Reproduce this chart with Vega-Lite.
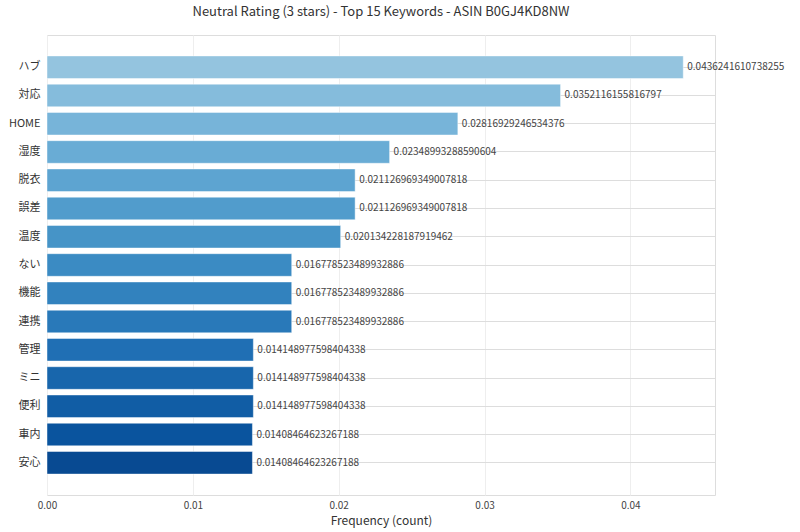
{
  "$schema": "https://vega.github.io/schema/vega-lite/v6.json",
  "autosize": {"type": "none"},
  "padding": {"left": 47, "top": 35, "right": 85, "bottom": 37},
  "width": 668,
  "height": 460,
  "background": "white",
  "title": {
    "text": "Neutral Rating (3 stars) - Top 15 Keywords - ASIN B0GJ4KD8NW",
    "anchor": "middle",
    "fontSize": 13,
    "fontWeight": "normal",
    "color": "#333333",
    "offset": 16
  },
  "config": {
    "font": "Noto Sans CJK JP",
    "view": {"stroke": "#dddddd", "strokeWidth": 1}
  },
  "data": {
    "values": [
      {"keyword": "ハブ", "value": 0.0436241610738255},
      {"keyword": "対応", "value": 0.0352116155816797},
      {"keyword": "HOME", "value": 0.02816929246534376},
      {"keyword": "湿度", "value": 0.02348993288590604},
      {"keyword": "脱衣", "value": 0.021126969349007818},
      {"keyword": "誤差", "value": 0.021126969349007818},
      {"keyword": "温度", "value": 0.020134228187919462},
      {"keyword": "ない", "value": 0.016778523489932886},
      {"keyword": "機能", "value": 0.016778523489932886},
      {"keyword": "連携", "value": 0.016778523489932886},
      {"keyword": "管理", "value": 0.014148977598404338},
      {"keyword": "ミニ", "value": 0.014148977598404338},
      {"keyword": "便利", "value": 0.014148977598404338},
      {"keyword": "車内", "value": 0.01408464623267188},
      {"keyword": "安心", "value": 0.01408464623267188}
    ]
  },
  "encoding": {
    "y": {
      "field": "keyword",
      "type": "nominal",
      "sort": null,
      "scale": {"paddingInner": 0.2, "paddingOuter": 0.74},
      "axis": {
        "title": null,
        "bandPosition": 0.5,
        "grid": true,
        "gridColor": "#dddddd",
        "gridWidth": 1,
        "ticks": false,
        "domain": false,
        "labelFontSize": 11,
        "labelColor": "#333333",
        "labelPadding": 7
      }
    },
    "x": {
      "field": "value",
      "type": "quantitative",
      "scale": {"domain": [0, 0.0458], "nice": false, "zero": true},
      "axis": {
        "title": "Frequency (count)",
        "titleFontSize": 12,
        "titleFontWeight": "normal",
        "titleColor": "#333333",
        "titlePadding": 5,
        "values": [0, 0.01, 0.02, 0.03, 0.04],
        "format": ".2f",
        "grid": true,
        "gridColor": "#eeeeee",
        "ticks": false,
        "domain": false,
        "labelFlush": false,
        "labelFontSize": 10,
        "labelColor": "#444444",
        "labelPadding": 5
      }
    }
  },
  "layer": [
    {
      "mark": {"type": "bar", "stroke": "white", "strokeOpacity": 0.45, "strokeWidth": 1},
      "encoding": {
        "color": {
          "field": "keyword",
          "type": "nominal",
          "legend": null,
          "scale": {
            "domain": ["ハブ", "対応", "HOME", "湿度", "脱衣", "誤差", "温度", "ない", "機能", "連携", "管理", "ミニ", "便利", "車内", "安心"],
            "range": ["#94c4df", "#85bcdc", "#77b4d9", "#69acd5", "#5da4d1", "#519ccc", "#4694c7", "#3b8bc3", "#3282be", "#2979b9", "#206fb4", "#1866ac", "#115da5", "#0a549e", "#084a92"]
          }
        }
      }
    },
    {
      "mark": {"type": "text", "align": "left", "baseline": "middle", "dx": 4, "fontSize": 10, "color": "#444444"},
      "encoding": {
        "text": {"field": "value", "type": "nominal"}
      }
    }
  ]
}
